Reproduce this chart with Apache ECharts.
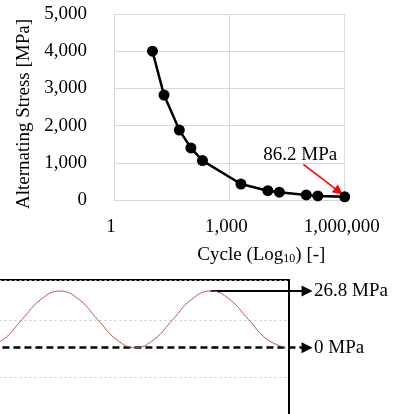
<!DOCTYPE html>
<html><head><meta charset="utf-8">
<script src="https://cdn.jsdelivr.net/npm/echarts@6/dist/echarts.min.js"></script>
<style>html,body{margin:0;padding:0;background:#fff;overflow:hidden}#c{width:413px;height:414px}</style>
</head><body><div id="c"></div>
<script>
// S-N curve data
const cycles = [10, 20, 50, 100, 200, 2000, 10000, 20000, 100000, 200000, 1000000];
const stress = [4000, 2820, 1880, 1400, 1060, 430, 250, 210, 135, 110, 86.2];
const yTicks = [0, 1000, 2000, 3000, 4000, 5000];
const xTicks = [1, 1000, 1000000];
// annotation arrow (cycles, stress)
const noteFrom = [84000, 960];
const noteTo = [700000, 230];
const noteText = [70000, 1210];
// loading wave (phase in cycles, stress in MPa)
const wavePhase = [0, 0.125, 0.25, 0.375, 0.5, 0.625, 0.75, 0.875, 1, 1.125, 1.25, 1.375, 1.5, 1.625, 1.75, 1.875, 2];
const waveStress = [0, 3.9, 13.4, 22.9, 26.8, 22.9, 13.4, 3.9, 0, 3.9, 13.4, 22.9, 26.8, 22.9, 13.4, 3.9, 0];
const maxStress = 26.8, minStress = 0;
const peakPhase = 1.5, arrowEndPhase = 2.14;

const FONT = 'Liberation Serif';
const fmt = v => String(Math.round(v)).replace(/\B(?=(\d{3})+(?!\d))/g, ',');
const txt = {fontFamily: FONT, fontSize: 19, color: '#000'};

const chart = echarts.init(document.getElementById('c'));
chart.setOption({
  backgroundColor: '#fff',
  animation: false,
  textStyle: {fontFamily: FONT},
  grid: [
    {left: 114, top: 14, width: 230.7, height: 186, outerBoundsMode: 'none', containLabel: false},
    {left: -15.5, top: 280, width: 304.5, height: 155.4, outerBoundsMode: 'none', containLabel: false,
     show: true, borderColor: '#000', borderWidth: 2, backgroundColor: 'transparent'}
  ],
  xAxis: [
    {type: 'log', logBase: 10, gridIndex: 0, min: xTicks[0], max: xTicks[xTicks.length - 1], interval: 3,
     axisLine: {show: true, lineStyle: {color: '#d9d9d9', width: 1}}, axisTick: {show: false},
     splitLine: {show: true, lineStyle: {color: '#d9d9d9', width: 1}},
     axisLabel: Object.assign({margin: 18, padding: [0, 6, 0, 0], formatter: fmt}, txt),
     name: 'Cycle (Log{sub|10}) [-]', nameLocation: 'middle', nameGap: 45,
     nameTextStyle: Object.assign({padding: [0, 0, 0, 64], rich: {sub: {fontFamily: FONT, fontSize: 12, color: '#000', padding: [8, 0, 0, 0]}}}, txt)},
    {type: 'value', gridIndex: 1, min: 0, max: 2.02, show: false}
  ],
  yAxis: [
    {type: 'value', gridIndex: 0, min: yTicks[0], max: yTicks[yTicks.length - 1], interval: 1000,
     axisLine: {show: true, lineStyle: {color: '#d9d9d9', width: 1}}, axisTick: {show: false},
     splitLine: {show: true, lineStyle: {color: '#d9d9d9', width: 1}},
     axisLabel: Object.assign({margin: 27, formatter: fmt}, txt),
     name: 'Alternating Stress [MPa]', nameLocation: 'middle', nameGap: 77, nameRotate: 90,
     nameTextStyle: Object.assign({padding: [0, 14, 0, 0]}, txt)},
    {type: 'value', gridIndex: 1, min: -41.45, max: 32, show: false},
    {type: 'value', gridIndex: 1, min: -1, max: 1.693, interval: 1,
     axisLine: {show: false}, axisTick: {show: false}, axisLabel: {show: false},
     splitLine: {show: true, lineStyle: {color: '#c8c8c8', width: 1, type: [2, 3]}}}
  ],
  series: [
    {type: 'line', xAxisIndex: 0, yAxisIndex: 0,
     data: cycles.map((c, i) => [c, stress[i]]),
     symbol: 'circle', symbolSize: 11, itemStyle: {color: '#000'},
     lineStyle: {color: '#000', width: 2.5},
     markPoint: {symbol: 'rect', symbolSize: 0,
       label: Object.assign({show: true, position: 'inside', formatter: stress[stress.length - 1] + ' MPa'}, txt),
       data: [{coord: noteText}]}},
    {type: 'lines', coordinateSystem: 'cartesian2d', xAxisIndex: 0, yAxisIndex: 0, clip: false,
     symbol: ['none', 'triangle'], symbolSize: [9, 10],
     lineStyle: {color: '#ff0000', width: 1.5, opacity: 1},
     data: [{coords: [noteFrom, noteTo]}]},
    {type: 'line', xAxisIndex: 1, yAxisIndex: 1,
     data: wavePhase.map((t, i) => [t, waveStress[i]]),
     smooth: 0.45, showSymbol: false, lineStyle: {color: '#c0504d', width: 1}},
    {type: 'lines', coordinateSystem: 'cartesian2d', xAxisIndex: 1, yAxisIndex: 1, clip: false,
     symbol: ['none', 'triangle'], symbolSize: [12, 11],
     label: Object.assign({show: true, position: 'end', distance: 7, formatter: p => p.name}, txt),
     data: [
       {name: maxStress + ' MPa', coords: [[peakPhase, maxStress], [arrowEndPhase, maxStress]],
        lineStyle: {color: '#000', width: 2, type: 'solid', opacity: 1}},
       {name: minStress + ' MPa', coords: [[-0.1, minStress], [arrowEndPhase, minStress]],
        lineStyle: {color: '#000', width: 2.5, type: [7, 4], opacity: 1}}
     ]}
  ]
});
</script></body></html>
